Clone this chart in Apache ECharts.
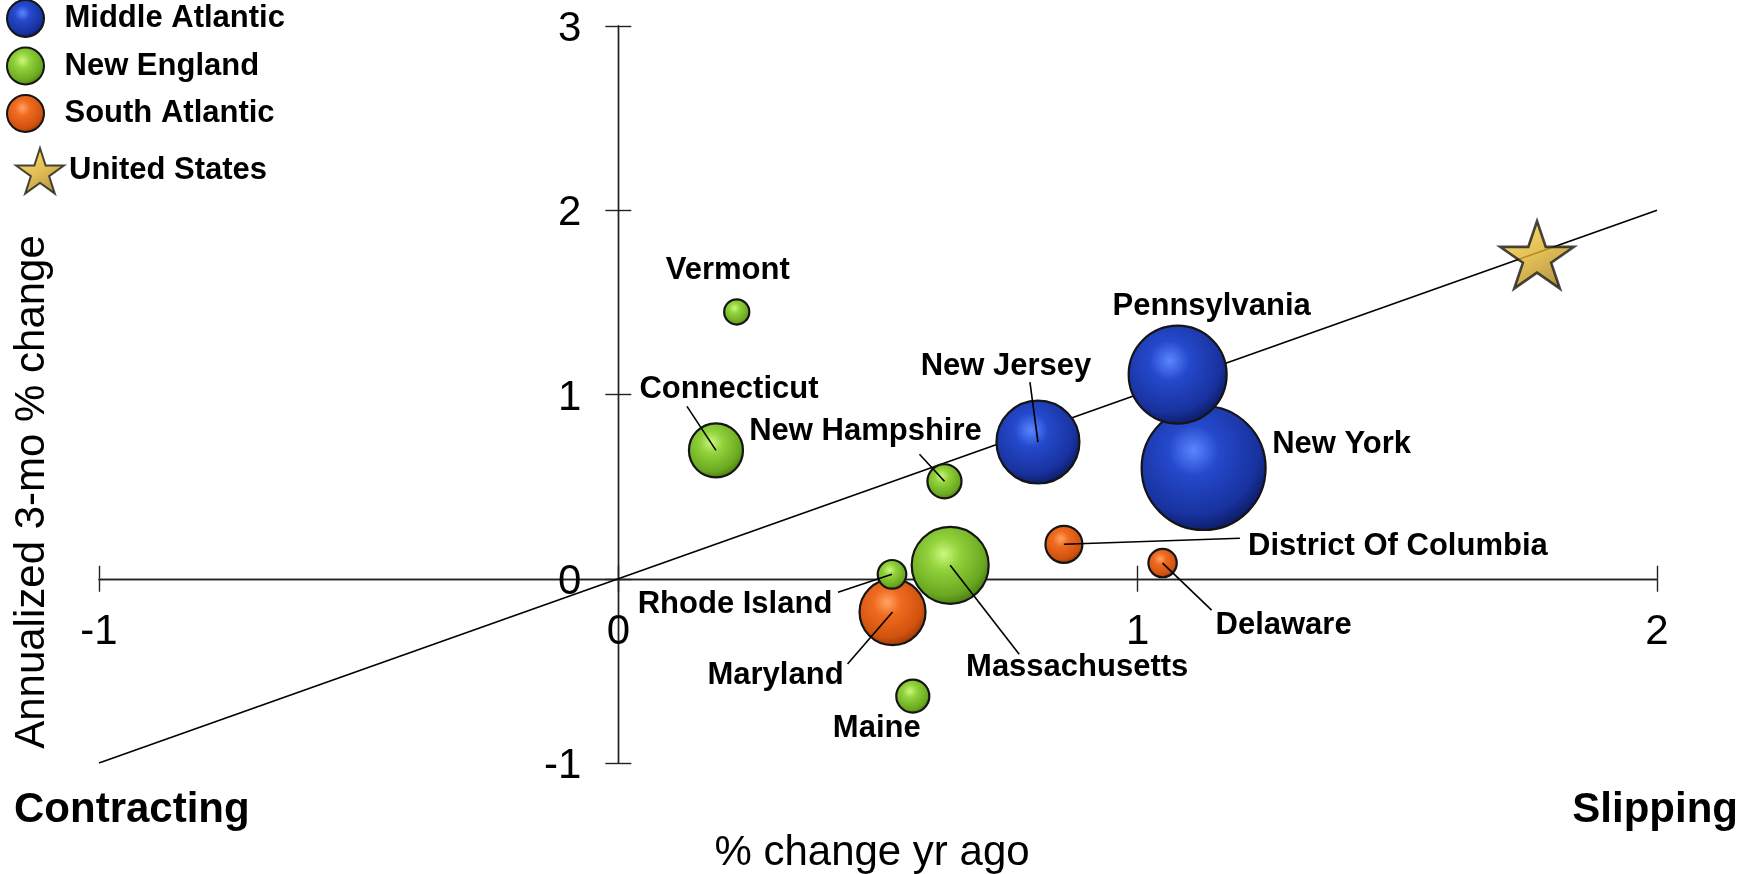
<!DOCTYPE html>
<html>
<head>
<meta charset="utf-8">
<style>
html,body{margin:0;padding:0;background:#fff;}
#chart{width:1754px;height:874px;}
</style>
<script src="https://cdn.jsdelivr.net/npm/echarts@6/dist/echarts.min.js"></script>
</head>
<body>
<div id="chart"></div>
<script>
// ---------- DATA ----------
const states = ['Vermont','Connecticut','New Hampshire','New Jersey','Pennsylvania','New York','District Of Columbia','Delaware','Rhode Island','Maryland','Massachusetts','Maine'];
const regions = ['New England','New England','New England','Middle Atlantic','Middle Atlantic','Middle Atlantic','South Atlantic','South Atlantic','New England','South Atlantic','New England','New England'];
const pctChangeYrAgo = [0.228, 0.188, 0.628, 0.808, 1.077, 1.127, 0.858, 1.048, 0.527, 0.528, 0.639, 0.567];
const annualized3Mo  = [1.448, 0.697, 0.529, 0.742, 1.108, 0.601, 0.187, 0.085, 0.024, -0.181, 0.073, -0.637];
const employment     = [0.37, 1.71, 0.68, 4.03, 5.62, 9.0, 0.80, 0.47, 0.48, 2.55, 3.47, 0.64];
const usName = 'United States';
const usPoint = [1.769, 1.758];
const parityLine = [[-1, -1], [2, 2]];
const xTicks = {min: -1, max: 2, interval: 1};
const yTicks = {min: -1, max: 3, interval: 1};
const regionNames = ['Middle Atlantic', 'New England', 'South Atlantic'];

// ---------- STYLE ----------
const FONT = '"Liberation Sans", Arial, sans-serif';
const STAR = 'path://M50,0 L61.23,34.55 L97.55,34.55 L68.17,55.9 L79.39,90.45 L50,69.1 L20.61,90.45 L31.83,55.9 L2.45,34.55 L38.77,34.55 Z';
const GRID = {left: 99, right: 97, top: 26, bottom: 111};
const W = 1754, H = 874;
function sphere(c0, c1, c2, c3) {
  return {type: 'radial', x: 0.42, y: 0.36, r: 0.66,
    colorStops: [{offset: 0, color: c0}, {offset: 0.3, color: c1}, {offset: 0.78, color: c2}, {offset: 1, color: c3}]};
}
const regionStyle = {
  'Middle Atlantic': sphere('#5a86ff', '#2549cc', '#18329e', '#0b1a60'),
  'New England': sphere('#cdf77e', '#92d23c', '#6aa920', '#467a10'),
  'South Atlantic': sphere('#ffa461', '#f06b20', '#d0520e', '#973606')
};
const labelLayout = {
  'Vermont': {dx: -9, dy: -42},
  'Connecticut': {dx: 13, dy: -61, line: [-29, -44]},
  'New Hampshire': {dx: -79, dy: -50, line: [-25, -27]},
  'New Jersey': {dx: -32, dy: -76, line: [-8, -60]},
  'Pennsylvania': {dx: 34, dy: -68},
  'New York': {dx: 138, dy: -24},
  'District Of Columbia': {dx: 334, dy: 2, line: [176, -6]},
  'Delaware': {dx: 121, dy: 62, line: [49, 47]},
  'Rhode Island': {dx: -157, dy: 30, line: [-54, 18]},
  'Maryland': {dx: -117, dy: 63, line: [-45, 52]},
  'Massachusetts': {dx: 127, dy: 102, line: [69, 89]},
  'Maine': {dx: -36, dy: 32}
};
const bubbleScale = 41.33;

// ---------- BUILD ----------
const seriesOrder = ['South Atlantic', 'Middle Atlantic', 'New England'];
const bubbleSeries = seriesOrder.map(function (reg) {
  const data = [];
  states.forEach(function (s, i) {
    if (regions[i] === reg) data.push({name: s, value: [pctChangeYrAgo[i], annualized3Mo[i], employment[i]]});
  });
  data.sort(function (a, b) { return b.value[2] - a.value[2]; });
  return {
    type: 'scatter', name: reg, data: data, z: 3,
    symbol: 'circle',
    symbolSize: function (v) { return bubbleScale * Math.sqrt(v[2]); },
    itemStyle: {color: regionStyle[reg], borderColor: '#151515', borderWidth: 2.2, opacity: 1},
    emphasis: {disabled: true}
  };
});

const axisCommon = {
  type: 'value',
  splitLine: {show: false},
  axisLine: {show: true, onZero: false, lineStyle: {color: '#222', width: 1.4}},
  axisTick: {show: true, length: 13, lineStyle: {color: '#222', width: 1.4}}
};

function buildAxes(zeroX, zeroY) {
  const gb = H - GRID.bottom, gr = W - GRID.right;
  return {
    xAxis: [
      Object.assign({}, axisCommon, {position: 'bottom', offset: zeroY - gb, min: xTicks.min, max: xTicks.max, interval: xTicks.interval,
        axisLabel: {show: true, margin: 33, fontSize: 42, fontFamily: FONT, color: '#000'}}),
      Object.assign({}, axisCommon, {position: 'top', offset: GRID.top - zeroY, min: xTicks.min, max: xTicks.max, interval: xTicks.interval,
        axisLabel: {show: false}})
    ],
    yAxis: [
      Object.assign({}, axisCommon, {position: 'left', offset: GRID.left - zeroX, min: yTicks.min, max: yTicks.max, interval: yTicks.interval,
        axisLabel: {show: true, margin: 37, fontSize: 42, fontFamily: FONT, color: '#000',
          formatter: '{v|{value}}',
          rich: {v: {fontSize: 42, fontFamily: FONT, color: '#000', padding: [7, 0, 0, 0]}}}}),
      Object.assign({}, axisCommon, {position: 'right', offset: zeroX - gr, min: yTicks.min, max: yTicks.max, interval: yTicks.interval,
        axisLabel: {show: false}})
    ]
  };
}

const option = Object.assign({
  animation: false,
  backgroundColor: '#fff',
  grid: {left: GRID.left, right: GRID.right, top: GRID.top, bottom: GRID.bottom, containLabel: false},
  legend: [
    {
      data: regionNames, orient: 'vertical', left: 1, top: -6,
      itemWidth: 52, itemHeight: 37, itemGap: 8.5, selectedMode: false,
      textStyle: {fontSize: 31, fontWeight: 'bold', fontFamily: FONT, color: '#000', padding: [0, 0, 0, 8]}
    },
    {
      data: [{name: usName, icon: STAR}], orient: 'vertical', left: 10, top: 142,
      itemWidth: 48, itemHeight: 46, selectedMode: false,
      textStyle: {fontSize: 31, fontWeight: 'bold', fontFamily: FONT, color: '#000', padding: [0, 0, 0, 0]}
    }
  ],
  graphic: [
    {type: 'text', x: 32, y: 492, rotation: Math.PI / 2, silent: true,
      style: {text: 'Annualized 3-mo % change', fontSize: 42, fontFamily: FONT, fill: '#000', align: 'center', verticalAlign: 'middle'}},
    {type: 'text', x: 872, y: 853, silent: true,
      style: {text: '% change yr ago', fontSize: 42, fontFamily: FONT, fill: '#000', align: 'center', verticalAlign: 'middle'}},
    {type: 'text', x: 14, y: 810, silent: true,
      style: {text: 'Contracting', fontSize: 42, fontWeight: 'bold', fontFamily: FONT, fill: '#000', align: 'left', verticalAlign: 'middle'}},
    {type: 'text', x: 1738, y: 810, silent: true,
      style: {text: 'Slipping', fontSize: 42, fontWeight: 'bold', fontFamily: FONT, fill: '#000', align: 'right', verticalAlign: 'middle'}}
  ],
  series: [
    {
      type: 'line', data: parityLine, symbol: 'none', z: 1, silent: true,
      lineStyle: {color: '#000', width: 1.6}, emphasis: {disabled: true}
    }
  ].concat(bubbleSeries).concat([
    {
      type: 'scatter', name: usName, data: [usPoint], z: 4,
      symbol: STAR, symbolSize: [74, 71], symbolKeepAspect: true,
      itemStyle: {
        color: {type: 'linear', x: 0.2, y: 0, x2: 0.8, y2: 1,
          colorStops: [{offset: 0, color: '#f7d54a'}, {offset: 0.5, color: '#dcae2c'}, {offset: 1, color: '#9c7412'}]},
        borderColor: '#1a1a1a', borderWidth: 2.6
      },
      emphasis: {disabled: true}
    },
    {
      type: 'custom', coordinateSystem: 'cartesian2d', z: 10, silent: true, clip: false,
      data: states.map(function (s, i) { return [pctChangeYrAgo[i], annualized3Mo[i], i]; }),
      encode: {x: 0, y: 1},
      renderItem: function (params, api) {
        const i = api.value(2);
        const p = api.coord([api.value(0), api.value(1)]);
        const o = labelLayout[states[i]];
        const children = [];
        if (o.line) {
          children.push({type: 'line', shape: {x1: p[0], y1: p[1], x2: p[0] + o.line[0], y2: p[1] + o.line[1]},
            style: {stroke: '#000', lineWidth: 1.6}});
        }
        children.push({type: 'text', style: {text: states[i], x: p[0] + o.dx, y: p[1] + o.dy,
          align: 'center', verticalAlign: 'middle', fontSize: 31, fontWeight: 'bold', fontFamily: FONT, fill: '#000'}});
        return {type: 'group', children: children};
      }
    }
  ])
}, buildAxes(GRID.left, H - GRID.bottom));

const chart = echarts.init(document.getElementById('chart'), null, {renderer: 'canvas'});
chart.setOption(option);
// place the axes through the zero point, using the library's own scales
const zx = chart.convertToPixel({xAxisIndex: 0}, 0);
const zy = chart.convertToPixel({yAxisIndex: 0}, 0);
chart.setOption(buildAxes(zx, zy));
</script>
</body>
</html>
